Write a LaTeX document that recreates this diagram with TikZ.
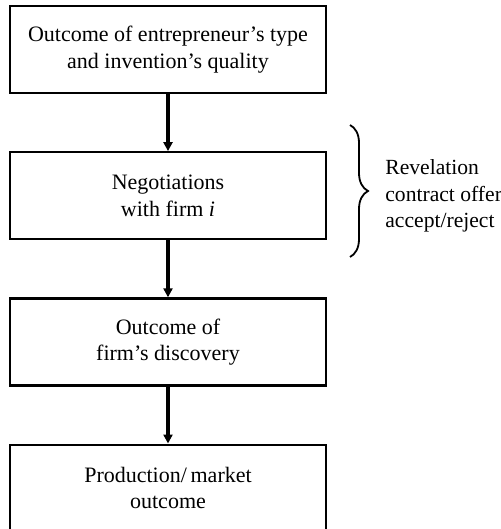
\documentclass[tikz,border=0pt]{standalone}
\usepackage{fontspec}
\setmainfont{Liberation Serif}
\usetikzlibrary{positioning, arrows.meta, decorations.pathreplacing}

\begin{document}
\begin{tikzpicture}[x=0.5pt, y=-0.5pt,
block/.style={rectangle, text centered, align=center, draw=black, line width=1.1pt,
    font=\fontsize{11}{13.25}\selectfont, minimum width=158pt, minimum height=43.5pt,
    inner sep=0pt},
line/.style={draw, line width=2pt, -{Triangle[length=4.5pt, width=4.5pt]}},
brace/.style={draw, line width=0.9pt, decorate, decoration={brace, amplitude=9pt}},
note/.style={align=left, font=\fontsize{10.8}{13.25}\selectfont, inner sep=0pt}
]
\useasboundingbox (0,0) rectangle (501,529);

\node [block] (type) at (168,49.5) {Outcome of entrepreneur's type\\and invention's quality};
\node [block, below=28.5pt of type] (nego) {Negotiations\\with firm \textit{i}};
\node [block, below=28.5pt of nego] (disc) {Outcome of\\firm's discovery};
\node [block, below=28.5pt of disc] (prod) {Production/\,market\\outcome};

\path [line] (type) -- (nego);
\path [line] (nego) -- (disc);
\path [line] (disc) -- (prod);

\coordinate (brace-top) at (350,125);
\coordinate (brace-bot) at (350,257);
\path [brace] (brace-top) -- (brace-bot);
\node [note, anchor=west] (stages) at (385,196) {Revelation\\contract offer\\accept/reject};

\end{tikzpicture}
\end{document}
